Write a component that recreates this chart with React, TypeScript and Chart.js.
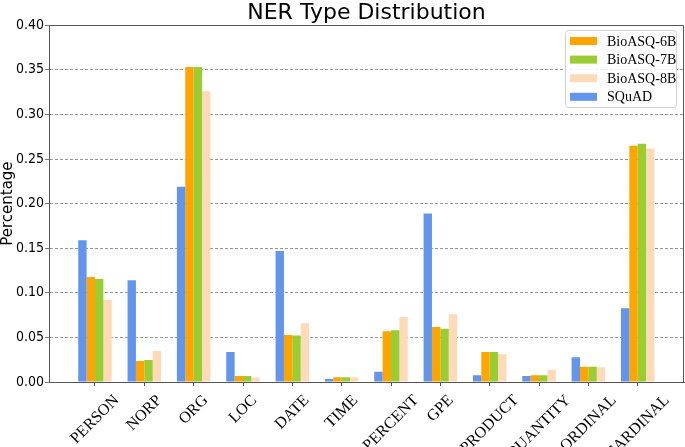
import React, { useEffect, useRef } from 'react';
import { Chart, registerables } from 'chart.js';

Chart.register(...registerables);

const categories = ['PERSON', 'NORP', 'ORG', 'LOC', 'DATE', 'TIME', 'PERCENT', 'GPE', 'PRODUCT', 'QUANTITY', 'ORDINAL', 'CARDINAL'];
const squad = [0.159, 0.114, 0.219, 0.0336, 0.147, 0.0034, 0.0115, 0.189, 0.0075, 0.0067, 0.0277, 0.0826];
const bioasq6b = [0.1176, 0.0235, 0.353, 0.0067, 0.0527, 0.0053, 0.057, 0.0616, 0.0336, 0.0075, 0.0172, 0.2648];
const bioasq7b = [0.1154, 0.0246, 0.353, 0.0067, 0.052, 0.0053, 0.058, 0.0598, 0.0336, 0.0075, 0.0172, 0.267];
const bioasq8b = [0.092, 0.0347, 0.326, 0.005, 0.066, 0.0053, 0.073, 0.076, 0.031, 0.0138, 0.0164, 0.2618];
const seriesNames = ['SQuAD', 'BioASQ-6B', 'BioASQ-7B', 'BioASQ-8B'];
const seriesColors = ['#6495ED', '#FFA500', '#9ACD32', '#FFDAB9'];
const legendOrder = [1, 2, 3, 0];
const yTickStep = 0.05;
const yMax = 0.4;

const W = 685;
const H = 447;

const framePlugin = {
  id: 'frameAndLabels',
  afterDraw(chart: any) {
    const ctx = chart.ctx as CanvasRenderingContext2D;
    const area = chart.chartArea;
    const xs = chart.scales.x;
    ctx.save();
    // top and right frame lines
    ctx.strokeStyle = '#555';
    ctx.lineWidth = 1;
    ctx.beginPath();
    ctx.moveTo(area.left, Math.round(area.top) + 0.5);
    ctx.lineTo(Math.round(area.right) - 0.5, Math.round(area.top) + 0.5);
    ctx.lineTo(Math.round(area.right) - 0.5, area.bottom);
    ctx.stroke();

    // rotated category labels, centred under each tick like matplotlib ha='center'
    const fs = 16;
    ctx.font = `${fs}px "Liberation Serif", "Times New Roman", serif`;
    ctx.fillStyle = '#000';
    categories.forEach((c, i) => {
      const x = xs.getPixelForValue(i);
      const w = ctx.measureText(c).width;
      const h = fs * 1.05;
      const bb = (w + h) * Math.SQRT1_2;
      ctx.save();
      ctx.translate(x, area.bottom + 10 + bb / 2);
      ctx.rotate(-Math.PI / 4);
      ctx.textAlign = 'center';
      ctx.textBaseline = 'middle';
      ctx.fillText(c, 0, 0);
      ctx.restore();
    });

    // legend box inside plot, upper right
    const lx = 565.5;
    const ly = 30.5;
    const lw = 111;
    const lh = 77;
    const r = 3;
    ctx.beginPath();
    ctx.moveTo(lx + r, ly);
    ctx.lineTo(lx + lw - r, ly);
    ctx.quadraticCurveTo(lx + lw, ly, lx + lw, ly + r);
    ctx.lineTo(lx + lw, ly + lh - r);
    ctx.quadraticCurveTo(lx + lw, ly + lh, lx + lw - r, ly + lh);
    ctx.lineTo(lx + r, ly + lh);
    ctx.quadraticCurveTo(lx, ly + lh, lx, ly + lh - r);
    ctx.lineTo(lx, ly + r);
    ctx.quadraticCurveTo(lx, ly, lx + r, ly);
    ctx.closePath();
    ctx.fillStyle = 'rgba(255,255,255,0.85)';
    ctx.fill();
    ctx.strokeStyle = '#d0d0d0';
    ctx.stroke();

    ctx.font = '14px "Liberation Serif", "Times New Roman", serif';
    ctx.textAlign = 'left';
    ctx.textBaseline = 'middle';
    legendOrder.forEach((di, row) => {
      const ds = chart.data.datasets[di];
      const cy = 41 + row * 18.6;
      ctx.fillStyle = ds.backgroundColor as string;
      ctx.fillRect(570, cy - 4, 27, 8);
      ctx.fillStyle = '#000';
      ctx.fillText(ds.label as string, 607, cy + 1);
    });
    ctx.restore();
  },
};

export default function App() {
  const canvasRef = useRef<HTMLCanvasElement | null>(null);

  useEffect(() => {
    document.body.style.margin = '0';
    const canvas = canvasRef.current;
    if (!canvas) return;
    const seriesValues = [squad, bioasq6b, bioasq7b, bioasq8b];
    const chart = new Chart(canvas, {
      type: 'bar',
      data: {
        datasets: seriesValues.map((vals, si) => ({
          label: seriesNames[si],
          data: vals.map((v, i) => ({ x: i, y: v })),
          backgroundColor: seriesColors[si],
          borderWidth: 0,
          categoryPercentage: 0.68,
          barPercentage: 1,
        })),
      },
      options: {
        responsive: false,
        animation: false,
        devicePixelRatio: 1,
        layout: { padding: { left: 0, right: 1, top: 0, bottom: 0 } },
        plugins: {
          legend: { display: false },
          tooltip: { enabled: false },
          title: {
            display: true,
            text: 'NER Type Distribution',
            fullSize: false,
            color: '#000',
            font: { family: '"DejaVu Sans", sans-serif', size: 22, weight: 'normal', lineHeight: 1.1 },
            padding: { top: 1, bottom: 0 },
          },
        },
        scales: {
          x: {
            type: 'linear',
            offset: false,
            min: -0.932,
            max: 11.938,
            afterBuildTicks: (scale: any) => {
              scale.ticks = categories.map((_, i) => ({ value: i }));
            },
            afterFit: (scale: any) => {
              scale.height = H - 382;
            },
            ticks: { display: false },
            grid: {
              display: true,
              offset: false,
              drawOnChartArea: false,
              drawTicks: true,
              tickLength: 4,
              tickColor: '#555',
            },
            border: { display: true, color: '#555', width: 1 },
          },
          y: {
            min: 0,
            max: yMax,
            afterFit: (scale: any) => {
              scale.width = 49;
            },
            ticks: {
              stepSize: yTickStep,
              color: '#000',
              padding: 1,
              font: { family: '"DejaVu Sans Condensed", "DejaVu Sans", sans-serif', size: 14 },
              callback: (v: any) => Number(v).toFixed(2),
            },
            title: {
              display: true,
              text: 'Percentage',
              color: '#000',
              font: { family: '"DejaVu Sans", sans-serif', size: 15, lineHeight: 1 },
              padding: { top: 0.5, bottom: 0 },
            },
            grid: {
              color: 'rgba(0,0,0,0.5)',
              lineWidth: 0.8,
              tickLength: 4,
              tickColor: '#555',
              tickBorderDash: [],
            },
            border: { display: true, color: '#555', width: 1, dash: [3, 2] },
          },
        },
      },
      plugins: [framePlugin],
    } as any);
    return () => chart.destroy();
  }, []);

  return (
    <div style={{ width: W, height: H }}>
      <canvas ref={canvasRef} width={W} height={H} style={{ display: 'block' }} />
    </div>
  );
}
